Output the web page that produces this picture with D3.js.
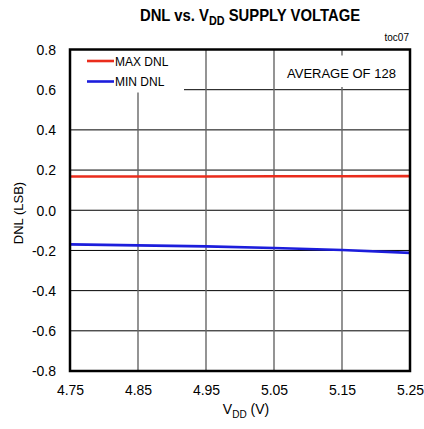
<!DOCTYPE html>
<html><head><meta charset="utf-8">
<script src="https://cdn.jsdelivr.net/npm/d3@7/dist/d3.min.js"></script>
<style>body{margin:0;background:#fff;} text{font-family:"Liberation Sans",Arial,sans-serif;}</style>
</head><body><svg id="c" width="424" height="429"></svg>
<script>
const vdd = [4.75, 4.85, 4.95, 5.05, 5.15, 5.25];
const maxDnl = [0.168, 0.168, 0.168, 0.169, 0.169, 0.170];
const minDnl = [-0.170, -0.175, -0.180, -0.188, -0.198, -0.212];
const xTicks = [4.75, 4.85, 4.95, 5.05, 5.15, 5.25];
const yTicks = [-0.8, -0.6, -0.4, -0.2, 0.0, 0.2, 0.4, 0.6, 0.8];

const svg = d3.select("#c");
const L = 70, R = 410, T = 49.5, B = 371;
const x = d3.scaleLinear().domain([4.75, 5.25]).range([L, R]);
const y = d3.scaleLinear().domain([-0.8, 0.8]).range([B, T]);

// grid
svg.append("g").selectAll("line").data(yTicks.slice(1, -1)).join("line")
  .attr("x1", L).attr("x2", R).attr("y1", d => y(d)).attr("y2", d => y(d))
  .attr("stroke", "#000").attr("stroke-width", 1);
svg.append("g").selectAll("line").data(xTicks.slice(1, -1)).join("line")
  .attr("x1", d => x(d)).attr("x2", d => x(d)).attr("y1", T).attr("y2", B)
  .attr("stroke", "#666").attr("stroke-width", 1.4);

// legend/annotation backgrounds
svg.append("rect").attr("x", L).attr("y", T).attr("width", 114).attr("height", 43).attr("fill", "#fff");
svg.append("rect").attr("x", 280).attr("y", 55.5).attr("width", 128).attr("height", 31.5).attr("fill", "#fff");

// lines
const line = d3.line().x((d, i) => x(vdd[i])).y(d => y(d));
svg.append("path").datum(maxDnl).attr("d", line).attr("fill", "none").attr("stroke", "#ea2c1c").attr("stroke-width", 2.6);
svg.append("path").datum(minDnl).attr("d", line).attr("fill", "none").attr("stroke", "#1c1ddc").attr("stroke-width", 2.6);

// frame
svg.append("rect").attr("x", L).attr("y", T).attr("width", R - L).attr("height", B - T)
  .attr("fill", "none").attr("stroke", "#000").attr("stroke-width", 2.5);

const hy = f => v => f(v).replace("\u2212", "-");

// axes labels
const xa = d3.axisBottom(x).tickValues(xTicks).tickFormat(d3.format(".2f")).tickSize(0).tickPadding(0);
const gx = svg.append("g").attr("transform", `translate(0,${B})`).call(xa);
gx.select(".domain").remove();
gx.selectAll("text").attr("y", 24).attr("dy", null).attr("font-size", 14).attr("fill", "#000")
  .style("font-family", '"Liberation Sans",Arial,sans-serif');

const ya = d3.axisLeft(y).tickValues(yTicks).tickFormat(hy(d3.format(".1f"))).tickSize(0).tickPadding(0);
const gy = svg.append("g").attr("transform", `translate(${L},0)`).call(ya);
gy.select(".domain").remove();
gy.selectAll("text").attr("x", -14).attr("dy", "0.35em").attr("font-size", 14).attr("fill", "#000")
  .style("font-family", '"Liberation Sans",Arial,sans-serif');

// title
const t = svg.append("text").attr("transform", "translate(250,21) scale(0.9,1)").attr("text-anchor", "middle")
  .attr("font-size", 16.5).attr("font-weight", "bold");
t.append("tspan").text("DNL vs. V");
t.append("tspan").attr("font-size", 12).attr("dy", 4).text("DD");
t.append("tspan").attr("dy", -4).text(" SUPPLY VOLTAGE");

svg.append("text").attr("x", 409).attr("y", 41).attr("text-anchor", "end").attr("font-size", 10).text("toc07");

// x label
const xl = svg.append("text").attr("x", 246).attr("y", 414).attr("text-anchor", "middle").attr("font-size", 14);
xl.append("tspan").text("V");
xl.append("tspan").attr("font-size", 10).attr("dy", 4).text("DD");
xl.append("tspan").attr("dy", -4).text(" (V)");

svg.append("text").attr("transform", "translate(23,213) rotate(-90)").attr("text-anchor", "middle")
  .attr("font-size", 13).text("DNL (LSB)");

// legend
const leg = [{n: "MAX DNL", c: "#ea2c1c"}, {n: "MIN DNL", c: "#1c1ddc"}];
leg.forEach((d, i) => {
  const yy = 61 + i * 20.5;
  svg.append("line").attr("x1", 87).attr("x2", 114).attr("y1", yy).attr("y2", yy).attr("stroke", d.c).attr("stroke-width", 2.6);
  svg.append("text").attr("x", 115).attr("y", yy + 4.5).attr("font-size", 12).text(d.n);
});
svg.append("text").attr("x", 287).attr("y", 77.5).attr("font-size", 13).text("AVERAGE OF 128");
</script></body></html>
